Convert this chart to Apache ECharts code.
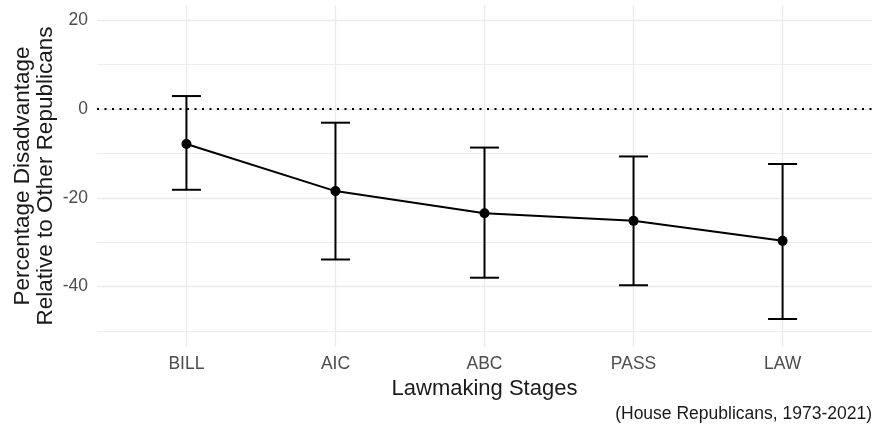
<!DOCTYPE html>
<html>
<head>
<meta charset="utf-8">
<script src="https://cdn.jsdelivr.net/npm/echarts@6/dist/echarts.min.js"></script>
<style>
html,body{margin:0;padding:0;background:#fff;}
#chart{width:876px;height:430px;}
</style>
</head>
<body>
<div id="chart"></div>
<script>
const categories = ['BILL', 'AIC', 'ABC', 'PASS', 'LAW'];
const estimates = [-7.9, -18.5, -23.5, -25.2, -29.7];
const lowerCI = [-18.2, -33.9, -38.0, -39.7, -47.3];
const upperCI = [2.9, -3.1, -8.7, -10.7, -12.4];
const majorTicks = [20, 0, -20, -40];
const minorTicks = [10, -10, -30, -50];
const refLine = 0;

const FONT = '"Liberation Sans", Arial, Helvetica, sans-serif';
const chart = echarts.init(document.getElementById('chart'), null, {renderer: 'canvas'});

const gridLines = [];
majorTicks.forEach(v => gridLines.push({
  yAxis: v,
  lineStyle: {color: '#ebebeb', width: 1.3, type: 'solid'},
  label: {show: true, position: 'start', formatter: String(v), color: '#4d4d4d', fontSize: 17.5, fontFamily: FONT, distance: 9}
}));
minorTicks.forEach(v => gridLines.push({
  yAxis: v,
  lineStyle: {color: '#ededed', width: 1, type: 'solid'},
  label: {show: false}
}));
categories.forEach((c, i) => gridLines.push({
  xAxis: i,
  lineStyle: {color: '#ebebeb', width: 1.3, type: 'solid'},
  label: {show: false}
}));

const errData = categories.map((c, i) => [i, lowerCI[i], upperCI[i]]);
const pointData = categories.map((c, i) => [i, estimates[i]]);

chart.setOption({
  animation: false,
  backgroundColor: '#ffffff',
  grid: {left: 97, right: 4, top: 5, bottom: 83, containLabel: false},
  xAxis: {
    type: 'value',
    min: -0.6,
    max: categories.length - 1 + 0.6,
    minInterval: 1,
    maxInterval: 1,
    axisLine: {show: false},
    axisTick: {show: false},
    splitLine: {show: false},
    axisLabel: {
      color: '#4d4d4d', fontSize: 17.5, fontFamily: FONT, margin: 8,
      showMinLabel: false, showMaxLabel: false,
      formatter: function (v) {
        const r = Math.round(v);
        return (Math.abs(v - r) < 1e-6 && categories[r] !== undefined) ? categories[r] : '';
      }
    },
    name: 'Lawmaking Stages',
    nameLocation: 'middle',
    nameGap: 28,
    nameTextStyle: {color: '#1a1a1a', fontSize: 22, fontFamily: FONT}
  },
  yAxis: {
    type: 'value',
    min: -53.6,
    max: 23.4,
    axisLine: {show: false},
    axisTick: {show: false},
    axisLabel: {show: false},
    splitLine: {show: false},
    name: 'Percentage Disadvantage\nRelative to Other Republicans',
    nameLocation: 'middle',
    nameGap: 40,
    nameTextStyle: {color: '#1a1a1a', fontSize: 22.5, fontFamily: FONT, lineHeight: 23, align: 'center'}
  },
  graphic: [{
    type: 'text',
    right: 4,
    bottom: 7,
    style: {text: '(House Republicans, 1973-2021)', fill: '#1a1a1a', fontSize: 17.5, fontFamily: FONT}
  }],
  series: [
    {
      type: 'line',
      data: [],
      silent: true,
      z: 1,
      markLine: {
        silent: true,
        z: 1,
        symbol: ['none', 'none'],
        animation: false,
        data: gridLines
      }
    },
    {
      type: 'line',
      data: [],
      silent: true,
      z: 3,
      markLine: {
        silent: true,
        z: 3,
        symbol: ['none', 'none'],
        animation: false,
        label: {show: false},
        data: [{yAxis: refLine, lineStyle: {color: '#000', width: 2, type: [2, 5.5]}}]
      }
    },
    {
      type: 'custom',
      z: 4,
      data: errData,
      renderItem: function (params, api) {
        const x = api.value(0);
        const lo = api.coord([x, api.value(1)]);
        const hi = api.coord([x, api.value(2)]);
        const hw = 14.5;
        const style = {stroke: '#000', lineWidth: 2, fill: null};
        return {
          type: 'group',
          children: [
            {type: 'line', shape: {x1: lo[0], y1: lo[1], x2: hi[0], y2: hi[1]}, style: style},
            {type: 'line', shape: {x1: lo[0] - hw, y1: lo[1], x2: lo[0] + hw, y2: lo[1]}, style: style},
            {type: 'line', shape: {x1: hi[0] - hw, y1: hi[1], x2: hi[0] + hw, y2: hi[1]}, style: style}
          ]
        };
      }
    },
    {
      type: 'line',
      z: 5,
      data: pointData,
      symbol: 'circle',
      symbolSize: 10,
      itemStyle: {color: '#000'},
      lineStyle: {color: '#000', width: 2}
    }
  ]
});
</script>
</body>
</html>
